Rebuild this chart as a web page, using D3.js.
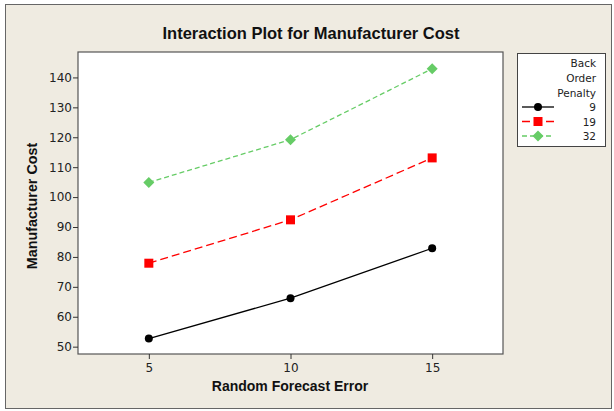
<!DOCTYPE html>
<html><head><meta charset="utf-8">
<script src="https://cdn.jsdelivr.net/npm/d3@7"></script>
<style>body{margin:0;background:#fff}svg{display:block}</style>
</head><body>
<script>
const xValues = [5, 10, 15];
const xTicks = [5, 10, 15];
const yTicks = [50, 60, 70, 80, 90, 100, 110, 120, 130, 140];
const penalties = ["9", "19", "32"];
const cost9 = [52.7, 66.2, 82.9];
const cost19 = [77.9, 92.4, 113.1];
const cost32 = [104.9, 119.2, 142.9];
const seriesColors = ["#000000", "#FF0000", "#66CC66"];

const W = 614, H = 411;
const svg = d3.select("body").append("svg").attr("width", W).attr("height", H);
svg.append("rect").attr("x",0).attr("y",0).attr("width",W).attr("height",H).attr("fill","#fff");
svg.append("rect").attr("x",5.5).attr("y",4.5).attr("width",606).attr("height",404)
  .attr("fill","#EFEBE1").attr("stroke","#666").attr("stroke-width",1);

const L = 78, T = 52, R = 503, B = 354;
const x = d3.scaleLinear().domain([2.5, 17.5]).range([L, R]);
const y = d3.scaleLinear().domain([47.55, 148.5]).range([B, T]);

svg.append("rect").attr("x",L).attr("y",T).attr("width",R-L).attr("height",B-T)
  .attr("fill","#fff").attr("stroke","#555").attr("stroke-width",1.2);

const font = "'Liberation Sans', Arial, sans-serif";
const tickFont = "'DejaVu Sans', Verdana, sans-serif";

const yAxis = svg.append("g").attr("transform",`translate(${L},0)`)
  .call(d3.axisLeft(y).tickValues(yTicks).tickSize(5).tickSizeOuter(0));
yAxis.select(".domain").remove();
yAxis.selectAll("text").attr("font-family",tickFont).attr("font-size",12).attr("fill","#222").attr("x",-6);
yAxis.selectAll("line").attr("stroke","#333");

const xAxis = svg.append("g").attr("transform",`translate(0,${B})`)
  .call(d3.axisBottom(x).tickValues(xTicks).tickSize(5).tickSizeOuter(0));
xAxis.select(".domain").remove();
xAxis.selectAll("text").attr("font-family",tickFont).attr("font-size",12).attr("fill","#222").attr("y",9);
xAxis.selectAll("line").attr("stroke","#333");

svg.append("text").attr("x",311).attr("y",39).attr("text-anchor","middle")
  .attr("font-family",font).attr("font-weight","bold").attr("font-size",16.5).attr("fill","#111")
  .text("Interaction Plot for Manufacturer Cost");
svg.append("text").attr("x",290).attr("y",391).attr("text-anchor","middle")
  .attr("font-family",font).attr("font-weight","bold").attr("font-size",14).attr("fill","#111")
  .text("Random Forecast Error");
svg.append("text").attr("transform","translate(37,206) rotate(-90)").attr("text-anchor","middle")
  .attr("font-family",font).attr("font-weight","bold").attr("font-size",14.3).attr("fill","#111")
  .text("Manufacturer Cost");

const series = [cost9, cost19, cost32];
const dashes = [null, "8,4", "5,3"];
const line = d3.line().x((d,i)=>x(xValues[i])).y(d=>y(d));

function marker(g, k, cx, cy) {
  if (k === 0) g.append("circle").attr("cx",cx).attr("cy",cy).attr("r",4).attr("fill",seriesColors[0]);
  else if (k === 1) g.append("rect").attr("x",cx-4.5).attr("y",cy-4.5).attr("width",9).attr("height",9).attr("fill",seriesColors[1]);
  else g.append("path").attr("d",`M${cx},${cy-5.5}L${cx+5.5},${cy}L${cx},${cy+5.5}L${cx-5.5},${cy}Z`).attr("fill",seriesColors[2]);
}

series.forEach((s,k)=>{
  const g = svg.append("g");
  g.append("path").attr("d", line(s)).attr("fill","none").attr("stroke",seriesColors[k])
    .attr("stroke-width",1.3).attr("stroke-dasharray",dashes[k]);
  s.forEach((v,i)=>marker(g,k,x(xValues[i]),y(v)));
});

// Legend
svg.append("rect").attr("x",517.5).attr("y",53.5).attr("width",88).attr("height",93)
  .attr("fill","#fff").attr("stroke","#444").attr("stroke-width",1);
const lf = 10.5;
["Back","Order","Penalty"].forEach((t,i)=>{
  svg.append("text").attr("x",596).attr("y",67+i*15).attr("text-anchor","end")
    .attr("font-family",tickFont).attr("font-size",lf).attr("fill","#222").text(t);
});
penalties.forEach((p,k)=>{
  const yy = 107 + k*14.5;
  const g = svg.append("g");
  g.append("line").attr("x1",522).attr("x2",554).attr("y1",yy).attr("y2",yy)
    .attr("stroke",seriesColors[k]).attr("stroke-width",1.3).attr("stroke-dasharray",dashes[k]);
  marker(g,k,538,yy);
  svg.append("text").attr("x",596).attr("y",yy+4).attr("text-anchor","end")
    .attr("font-family",tickFont).attr("font-size",lf).attr("fill","#222").text(p);
});
</script>
</body></html>
